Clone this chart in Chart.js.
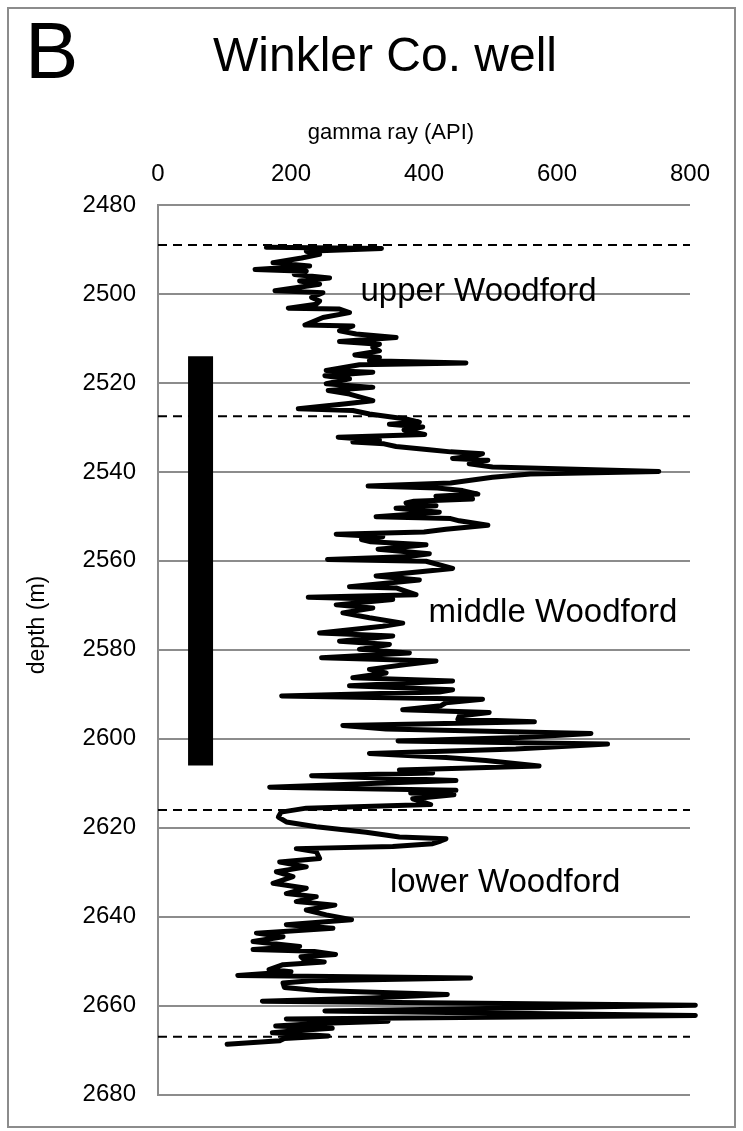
<!DOCTYPE html>
<html>
<head>
<meta charset="utf-8">
<script src="https://cdn.jsdelivr.net/npm/chart.js@4.4.1/dist/chart.umd.min.js"></script>
<style>
  html, body { margin: 0; padding: 0; background: #fff; }
  #wrap { position: absolute; left: 0; top: 0; width: 743px; height: 1131px; }
</style>
</head>
<body>
<div id="wrap"><canvas id="myChartWell" width="743" height="1131"></canvas></div>
<script>
var depth = [
  2489.5, 2489.8, 2490.4, 2491.1, 2491.9, 2493.0, 2493.7, 2494.5, 2494.9, 2495.6,
  2496.4, 2497.1, 2497.8, 2499.3, 2499.7, 2500.8, 2501.6, 2502.3, 2503.2, 2503.4,
  2504.2, 2505.3, 2507.0, 2507.2, 2508.3, 2509.0, 2509.8, 2510.7, 2511.3, 2512.0,
  2512.8, 2513.7, 2514.3, 2515.0, 2515.5, 2515.9, 2517.2, 2517.6, 2518.4, 2519.1,
  2520.2, 2521.0, 2521.7, 2522.5, 2524.0, 2524.7, 2525.8, 2526.2, 2527.0, 2528.1,
  2528.8, 2529.3, 2529.9, 2530.6, 2531.6, 2532.2, 2532.9, 2533.3, 2533.7, 2534.3,
  2535.0, 2535.5, 2535.9, 2536.3, 2537.0, 2537.4, 2538.2, 2538.9, 2539.9, 2540.5,
  2541.2, 2542.5, 2543.2, 2543.6, 2544.2, 2545.0, 2545.5, 2546.1, 2546.6, 2547.0,
  2547.6, 2548.2, 2548.7, 2549.1, 2550.1, 2550.5, 2551.0, 2552.0, 2552.9, 2553.5,
  2554.0, 2554.6, 2555.2, 2555.7, 2556.4, 2557.0, 2557.4, 2558.4, 2559.0, 2559.7,
  2560.1, 2561.7, 2562.4, 2563.4, 2564.3, 2565.8, 2566.1, 2567.6, 2568.2, 2568.7,
  2569.9, 2570.6, 2571.7, 2572.8, 2574.0, 2574.7, 2576.2, 2576.9, 2578.1, 2578.8,
  2579.9, 2580.7, 2581.8, 2582.5, 2583.3, 2584.4, 2585.2, 2586.3, 2587.0, 2588.1,
  2589.0, 2589.5, 2590.4, 2591.1, 2591.9, 2592.6, 2593.5, 2594.1, 2594.9, 2595.6,
  2596.2, 2597.0, 2597.8, 2598.8, 2599.7, 2600.5, 2601.2, 2602.3, 2603.3, 2604.2,
  2604.9, 2606.1, 2607.0, 2607.7, 2608.3, 2609.4, 2610.0, 2610.9, 2611.6, 2612.2,
  2612.6, 2613.5, 2614.3, 2614.8, 2615.6, 2616.5, 2617.6, 2618.7, 2619.8, 2621.0,
  2622.1, 2622.5, 2623.0, 2623.6, 2624.2, 2624.7, 2625.4, 2626.9, 2627.7, 2628.8,
  2629.9, 2631.0, 2632.5, 2633.6, 2634.8, 2635.5, 2636.6, 2637.4, 2638.5, 2639.6,
  2640.7, 2641.8, 2642.6, 2643.7, 2644.5, 2645.6, 2646.7, 2647.4, 2647.8, 2648.5,
  2649.0, 2649.7, 2650.2, 2650.8, 2651.9, 2652.4, 2653.2, 2653.8, 2654.4, 2654.9,
  2655.9, 2656.6, 2657.5, 2658.3, 2659.0, 2659.9, 2661.2, 2662.2, 2663.0, 2663.5,
  2664.0, 2664.6, 2665.1, 2665.6, 2666.1, 2666.8, 2667.4, 2667.9, 2668.7
];
var gammaRay = [
  163, 336, 223, 243, 216, 173, 228, 146, 223, 205,
  258, 213, 243, 176, 248, 231, 243, 238, 196, 273,
  288, 248, 221, 293, 273, 298, 358, 273, 333, 323,
  333, 296, 333, 318, 463, 303, 253, 323, 251, 288,
  253, 323, 256, 288, 323, 283, 211, 293, 318, 373,
  393, 348, 398, 370, 401, 271, 333, 293, 340, 358,
  408, 440, 488, 480, 443, 496, 468, 503, 753, 560,
  503, 440, 316, 420, 458, 481, 418, 473, 385, 373,
  418, 358, 395, 423, 328, 440, 453, 496, 433, 400,
  268, 338, 306, 320, 403, 360, 331, 408, 380, 255,
  403, 443, 398, 328, 393, 288, 358, 388, 226, 353,
  268, 323, 278, 318, 368, 338, 243, 353, 273, 348,
  303, 378, 246, 418, 373, 318, 343, 293, 443, 288,
  443, 423, 186, 488, 433, 425, 368, 498, 453, 451,
  566, 278, 343, 651, 543, 361, 676, 538, 318, 433,
  493, 573, 363, 413, 231, 448, 330, 168, 448, 380,
  445, 383, 400, 410, 223, 185, 181, 193, 238, 313,
  363, 433, 425, 413, 353, 208, 238, 243, 183, 223,
  178, 203, 173, 223, 193, 238, 208, 266, 223, 253,
  291, 193, 263, 148, 188, 143, 213, 143, 235, 267,
  215, 220, 250, 188, 167, 200, 120, 470, 230, 188,
  190, 240, 435, 320, 157, 808, 251, 808, 193, 346,
  240, 177, 262, 210, 172, 256, 190, 183, 104
];

// formation tops (dashed lines)
var formationTops = [2489.0, 2527.5, 2616.0, 2667.0];
// sampled interval (black bar)
var sampledInterval = [2514, 2606];
var sampledApi = 64;

var zoneNames = ['upper Woodford', 'middle Woodford', 'lower Woodford'];
var zoneApi = [482, 594, 522];
var zoneDepth = [2499.5, 2571.7, 2632.3];

var FONT = "'Liberation Sans', Arial, sans-serif";
var GRID = '#8c8c8c';

var logPoints = depth.map(function (d, i) { return { x: gammaRay[i], y: d }; });

var datasets = [{
  label: 'gamma ray',
  data: logPoints,
  borderColor: '#000',
  borderWidth: 5,
  borderJoinStyle: 'round',
  borderCapStyle: 'round',
  pointRadius: 0,
  showLine: true,
  clip: false
}];

formationTops.forEach(function (d) {
  datasets.push({
    label: 'top ' + d,
    data: [{ x: 0, y: d }, { x: 800, y: d }],
    borderColor: '#000',
    borderWidth: 2,
    borderDash: [9, 6],
    pointRadius: 0,
    showLine: true
  });
});

datasets.push({
  label: 'sampled',
  data: [{ x: sampledApi, y: sampledInterval[0] }, { x: sampledApi, y: sampledInterval[1] }],
  borderColor: '#000',
  borderWidth: 25,
  borderCapStyle: 'butt',
  pointRadius: 0,
  showLine: true
});

var textPlugin = {
  id: 'wellText',
  beforeDraw: function (chart) {
    var c = chart.ctx;
    c.save();
    c.fillStyle = '#fff';
    c.fillRect(0, 0, chart.width, chart.height);
    c.strokeStyle = GRID;
    c.lineWidth = 2;
    c.strokeRect(8, 8, 727, 1119);
    c.restore();
  },
  afterDraw: function (chart) {
    var c = chart.ctx;
    var xs = chart.scales.x, ys = chart.scales.y;
    c.save();
    c.fillStyle = '#000';
    c.textBaseline = 'alphabetic';
    c.textAlign = 'left';
    c.font = '80px ' + FONT;
    c.fillText('B', 25, 78);
    c.textAlign = 'center';
    c.font = '48px ' + FONT;
    c.fillText('Winkler Co. well', 385, 71);
    c.font = '22px ' + FONT;
    c.textBaseline = 'middle';
    c.fillText('gamma ray (API)', 391, 133);
    c.save();
    c.translate(38, 625);
    c.rotate(-Math.PI / 2);
    c.font = '23px ' + FONT;
    c.fillText('depth (m)', 0, 0);
    c.restore();
    c.font = '33px ' + FONT;
    for (var i = 0; i < zoneNames.length; i++) {
      c.fillText(zoneNames[i], xs.getPixelForValue(zoneApi[i]), ys.getPixelForValue(zoneDepth[i]));
    }
    c.restore();
  }
};

var myChartWell = new Chart(document.getElementById('myChartWell'), {
  type: 'scatter',
  data: { datasets: datasets },
  plugins: [textPlugin],
  options: {
    responsive: false,
    animation: false,
    devicePixelRatio: 1,
    layout: { padding: { left: 0, right: 53, top: 0, bottom: 32 } },
    plugins: {
      legend: { display: false },
      tooltip: { enabled: false }
    },
    scales: {
      x: {
        type: 'linear',
        position: 'top',
        min: 0,
        max: 800,
        afterFit: function (scale) { scale.height = 205; },
        ticks: { stepSize: 200, color: '#000', padding: 16, font: { family: FONT, size: 24 } },
        grid: { display: false, drawTicks: false },
        border: { display: false }
      },
      y: {
        type: 'linear',
        reverse: true,
        min: 2480,
        max: 2680,
        afterFit: function (scale) { scale.width = 158; },
        ticks: {
          stepSize: 20,
          color: '#000',
          padding: 22,
          font: { family: FONT, size: 24 },
          callback: function (value) { return String(value); }
        },
        grid: { color: GRID, lineWidth: 2, drawTicks: false },
        border: { display: true, color: GRID, width: 2 }
      }
    }
  }
});
</script>
</body>
</html>
